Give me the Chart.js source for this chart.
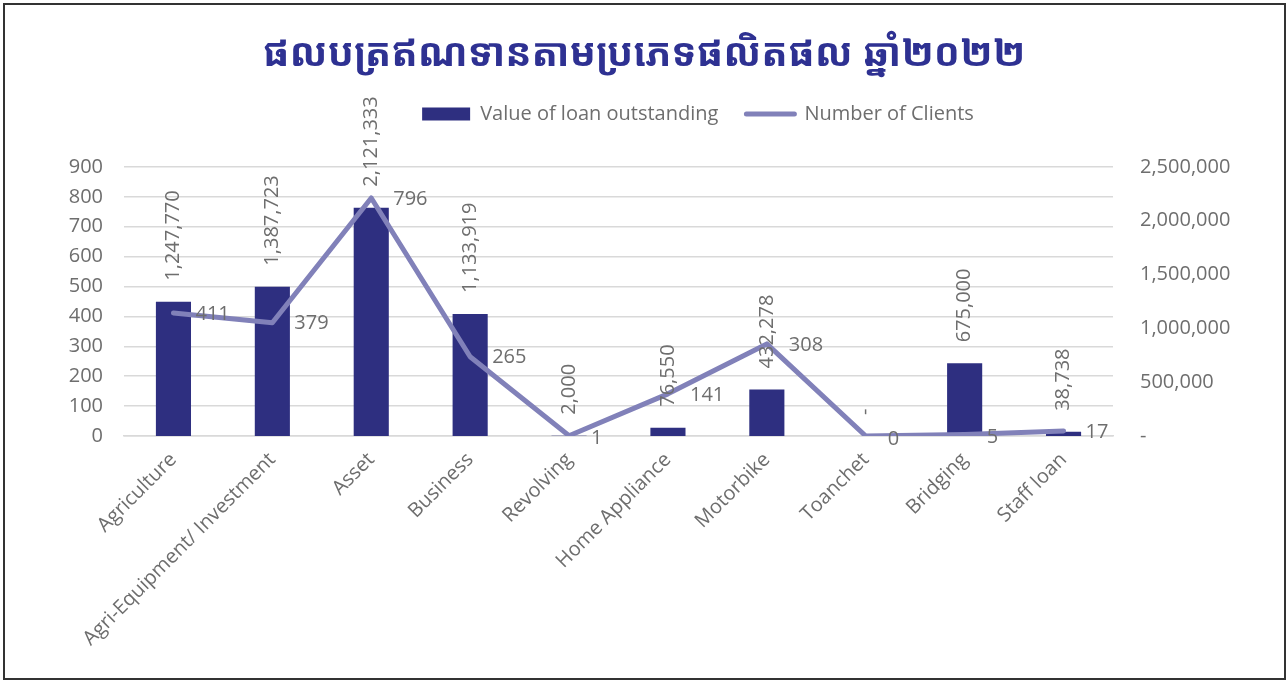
<!DOCTYPE html>
<html>
<head>
<meta charset="utf-8">
<script src="https://cdn.jsdelivr.net/npm/chart.js@4"></script>
<style>
  html, body { margin: 0; padding: 0; background: #fff; }
  #wrap { position: relative; width: 1288px; height: 682px; }
  #chart { display: block; }
  #frame {
    position: absolute; left: 3px; top: 3px; width: 1283px; height: 677px;
    border: 2px solid #333; box-sizing: border-box; pointer-events: none;
  }
</style>
</head>
<body>
<div id="wrap">
  <canvas id="chart" width="1288" height="682"></canvas>
  <div id="frame"></div>
</div>
<script>
const titleText = "ផលបត្រឥណទានតាមប្រភេទផលិតផល ឆ្នាំ២០២២";

const categories = [
  "Agriculture", "Agri-Equipment/ Investment", "Asset", "Business", "Revolving",
  "Home Appliance", "Motorbike", "Toanchet", "Bridging", "Staff loan"
];

const loanValues = [1247770, 1387723, 2121333, 1133919, 2000, 76550, 432278, 0, 675000, 38738];
const clientCounts = [411, 379, 796, 265, 1, 141, 308, 0, 5, 17];

const clientTicks = [0, 100, 200, 300, 400, 500, 600, 700, 800, 900];
const loanTicks = [0, 500000, 1000000, 1500000, 2000000, 2500000];

const barColor = "#2E2F80";
const lineColor = "#8181B9";
const textColor = "#6E6E6E";
const gridColor = "#D9D9D9";
const fontFamily = "'Open Sans', 'Noto Sans', sans-serif";

function fmt(v) {
    return v === 0 ? "-" : v.toLocaleString("en-US");
}

// push the plot down below the legend, and nudge the legend right like the original
const legendTweak = {
    id: "legendTweak",
    beforeInit(chart) {
        const fit = chart.legend.fit;
        chart.legend.fit = function () {
            fit.call(this);
            this.height += 33;
        };
    },
    afterLayout(chart) {
        chart.legend.left += 54;
        chart.legend.right += 54;
    }
};

// value labels: rotated above bars, to the right of line points
const valueLabels = {
    id: "valueLabels",
    afterDatasetsDraw(chart) {
        const ctx = chart.ctx;
        ctx.save();
        ctx.font = "20px " + fontFamily;
        ctx.fillStyle = textColor;
        ctx.textBaseline = "middle";

        const bars = chart.getDatasetMeta(0).data;
        bars.forEach((el, i) => {
            const text = fmt(loanValues[i]);
            const w = ctx.measureText(text).width;
            let bottom = el.y - 21;
            if (bottom - w < 92) bottom = 92 + w;
            ctx.save();
            ctx.translate(el.x, bottom);
            ctx.rotate(-Math.PI / 2);
            ctx.textAlign = "left";
            ctx.fillText(text, 0, 0);
            ctx.restore();
        });

        const points = chart.getDatasetMeta(1).data;
        points.forEach((el, i) => {
            ctx.textAlign = "left";
            const dy = clientCounts[i] < 10 ? 3 : 1;
            ctx.fillText(String(clientCounts[i]), el.x + 22, el.y + dy);
        });
        ctx.restore();
    }
};

new Chart(document.getElementById("chart"), {
    type: "bar",
    data: {
        labels: categories,
        datasets: [
            {
                type: "bar",
                label: "Value of loan outstanding",
                data: loanValues,
                yAxisID: "y1",
                backgroundColor: barColor,
                borderWidth: 0,
                categoryPercentage: 1,
                barPercentage: 0.355,
                pointStyle: "rect",
                order: 2
            },
            {
                type: "line",
                label: "Number of Clients",
                data: clientCounts,
                yAxisID: "y",
                borderColor: lineColor,
                backgroundColor: lineColor,
                borderWidth: 5,
                borderCapStyle: "round",
                borderJoinStyle: "round",
                pointRadius: 0,
                pointStyle: "line",
                tension: 0,
                order: 1
            }
        ]
    },
    options: {
        responsive: false,
        animation: false,
        devicePixelRatio: 1,
        layout: { padding: { top: 27, left: 0, right: 0, bottom: 0 } },
        plugins: {
            title: {
                display: true,
                text: titleText,
                color: "#2E3192",
                font: { family: "'Khmer OS Muol Light', 'Noto Sans Khmer', 'Noto Serif Khmer', 'Noto Sans', sans-serif", size: 39, weight: "bold", lineHeight: 1.1 },
                padding: { top: 6, bottom: 0 }
            },
            legend: {
                display: true,
                position: "top",
                labels: {
                    usePointStyle: true,
                    pointStyleWidth: 48,
                    boxHeight: 13,
                    padding: 28,
                    color: textColor,
                    font: { family: fontFamily, size: 20 },
                    sort: (a, b) => a.datasetIndex - b.datasetIndex,
                    generateLabels(chart) {
                        const items = Chart.defaults.plugins.legend.labels.generateLabels(chart);
                        items.forEach(item => {
                            if (item.datasetIndex === 1) {
                                item.lineWidth = 5;
                                item.strokeStyle = lineColor;
                                item.lineCap = "round";
                                item.pointStyle = "line";
                            } else {
                                item.lineWidth = 0;
                                item.fillStyle = barColor;
                                item.pointStyle = "rect";
                            }
                        });
                        return items;
                    }
                }
            },
            tooltip: { enabled: false }
        },
        scales: {
            x: {
                offset: true,
                grid: { display: false, drawTicks: false },
                border: { display: true, color: gridColor, width: 1.5 },
                ticks: {
                    color: textColor,
                    font: { family: fontFamily, size: 20 },
                    autoSkip: false,
                    maxRotation: 45,
                    minRotation: 45,
                    padding: 12
                },
                afterFit(scale) { scale.height = 246; }
            },
            y: {
                position: "left",
                min: 0,
                max: 900,
                afterBuildTicks(scale) { scale.ticks = clientTicks.map(v => ({ value: v })); },
                grid: { color: gridColor, lineWidth: 1.5, drawTicks: false },
                border: { display: false },
                ticks: {
                    color: textColor,
                    font: { family: fontFamily, size: 20 },
                    padding: 21
                },
                afterFit(scale) { scale.width = 124; }
            },
            y1: {
                position: "right",
                min: 0,
                max: 2500000,
                afterBuildTicks(scale) { scale.ticks = loanTicks.map(v => ({ value: v })); },
                grid: { display: false, drawTicks: false },
                border: { display: false },
                ticks: {
                    color: textColor,
                    font: { family: fontFamily, size: 20 },
                    padding: 27,
                    callback: v => fmt(v)
                },
                afterFit(scale) { scale.width = 175; }
            }
        }
    },
    plugins: [legendTweak, valueLabels]
});
</script>
</body>
</html>
